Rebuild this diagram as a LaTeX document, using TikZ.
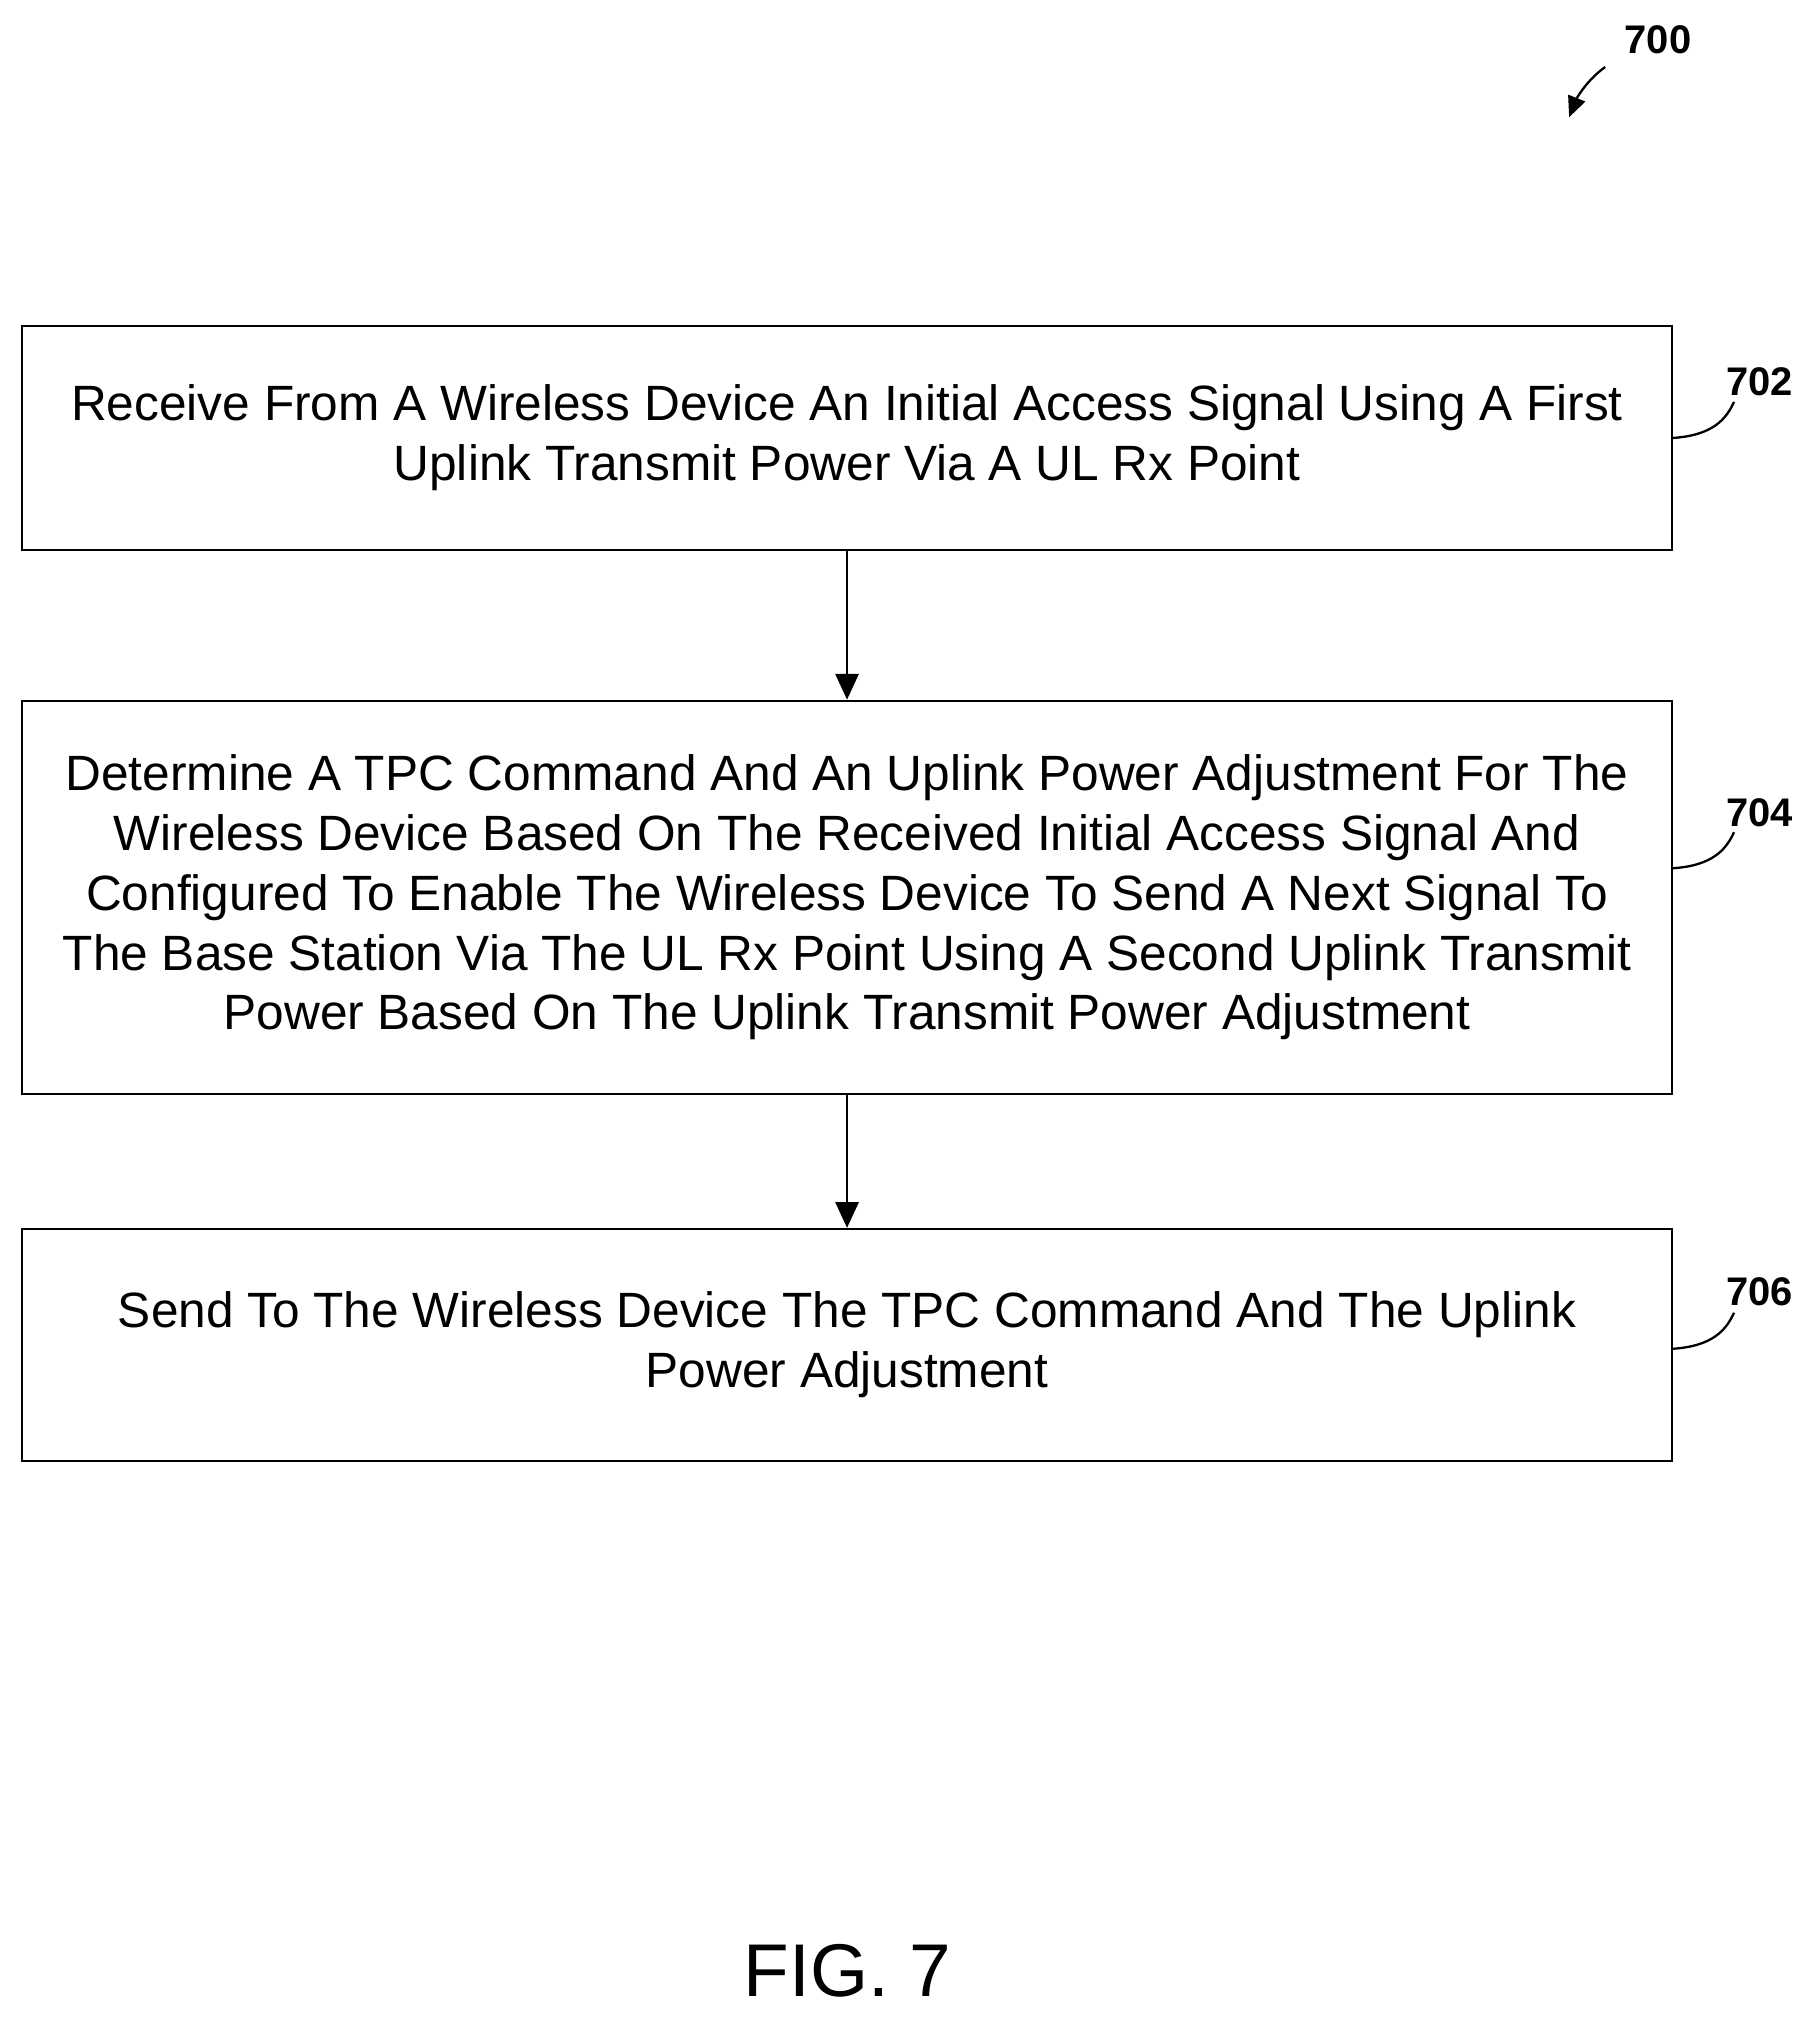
\documentclass[tikz,border=0pt]{standalone}
\usepackage{fontspec}
\setmainfont{Liberation Sans}
\usetikzlibrary{arrows.meta}
\begin{document}
\begin{tikzpicture}[x=1pt,y=-1pt,
  box/.style={draw,line width=1.8pt,minimum width=1281pt,align=center,font=\fontsize{38.5}{46.5}\selectfont},
  arr/.style={line width=1.8pt,-{Triangle[length=20pt,width=18pt]}},
  lab/.style={font=\fontsize{31}{31}\selectfont\bfseries},
  tick/.style={line width=1.8pt}]
\useasboundingbox (0,0) rectangle (1412,1568);
\node[box,minimum height=174pt] (b1) at (657.5,340) {Receive From A Wireless Device An Initial Access Signal Using A First\\Uplink Transmit Power Via A UL Rx Point};
\node[box,minimum height=305pt] (b2) at (657.5,696.5) {Determine A TPC Command And An Uplink Power Adjustment For The\\Wireless Device Based On The Received Initial Access Signal And\\Configured To Enable The Wireless Device To Send A Next Signal To\\The Base Station Via The UL Rx Point Using A Second Uplink Transmit\\Power Based On The Uplink Transmit Power Adjustment};
\node[box,minimum height=180pt] (b3) at (657.5,1044) {Send To The Wireless Device The TPC Command And The Uplink\\Power Adjustment};
\draw[arr] (b1) -- (b2);
\draw[arr] (b2) -- (b3);
\node[lab] (l702) at (1366,296) {702};
\node[lab] (l704) at (1366,631) {704};
\node[lab] (l706) at (1366,1003) {706};
\node[lab] (l700) at (1287,31) {700};
\coordinate (t1) at (1298,340);
\coordinate (t2) at (1298,674);
\coordinate (t3) at (1298,1047);
\draw[tick] (t1) .. controls (1330,338) and (1340,325) .. (1346,312);
\draw[tick] (t2) .. controls (1330,672) and (1340,659) .. (1346,646);
\draw[tick] (t3) .. controls (1330,1045) and (1340,1032) .. (1346,1019);
\coordinate (a0) at (1246,52);
\coordinate (a1) at (1218,91);
\draw[line width=1.8pt,-{Triangle[length=16pt,width=14pt]}] (a0) .. controls (1232,62) and (1224,76) .. (a1);
\node[font=\fontsize{58}{58}\selectfont] (fig) at (658,1530) {FIG. 7};
\end{tikzpicture}
\end{document}
